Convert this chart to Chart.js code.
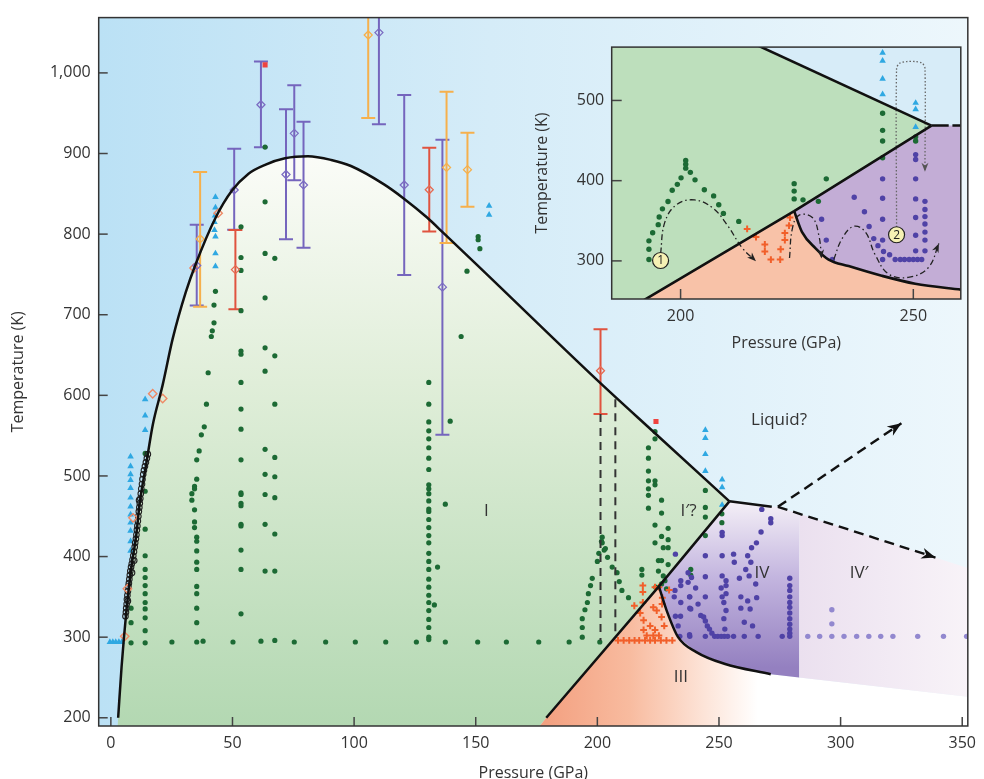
<!DOCTYPE html>
<html>
<head>
<meta charset="utf-8">
<script src="https://cdn.jsdelivr.net/npm/chart.js@4.4.1/dist/chart.umd.min.js"></script>
<style>
  html, body { margin: 0; padding: 0; background: #fff; }
  #wrap { position: relative; width: 984px; height: 779px; overflow: hidden; }
  #main { position: absolute; left: 0; top: 0; }
  #inset { position: absolute; left: 520px; top: 30px; }
</style>
</head>
<body>
<div id="wrap">
  <canvas id="main" width="984" height="779"></canvas>
  <canvas id="inset" width="450" height="330"></canvas>
</div>
<script>
// Phase boundaries, [P (GPa), T (K)]
const meltCurve = [[3.0,200],[4.4,263],[6.4,333],[8.4,386],[10.5,428],[11.8,465],[14.5,514],[17.2,563],[21.3,613],[25.4,670],[30.8,728],[34.9,763],[43,820],[49.8,854],[56.6,875],[63.4,886],[71.6,894],[81,896.5],[90.6,892],[98.7,884.5],[112.3,861.7],[120.5,844],[130,820.6],[136.8,801.2],[150.4,762.2],[200.6,617],[223.7,553],[254.3,468.5]];
const lineI = [[179,200],[225.3,363],[254.3,468.5]];
const curveIIIIV = [[225.3,363],[228.5,333],[233.2,300],[240.7,281.5],[252.2,267],[271.3,254]];
const lineIVLiquid = [[254.3,468.5],[271.7,461.7]];
const arrowUp = [[274.2,461.7],[325,565.4]];
const arrowDown = [[274.2,461.7],[339,398.8]];
const dashA = [[201.3,577],[201.3,296]];
const dashB = [[207.4,595],[207.4,299]];
const edgeIV = 283; // where IV turns into IV'

// Measurements
const greenDots = [[8.3,336],[8.3,318],[8.3,293],
  [14.1,528],[14.1,481],[14.1,434],[14.1,401],[14.1,384],[14.1,374],[14.1,364],[14.1,354],[14.1,343],[14.1,335],[14.1,324],[14.1,308],[14.1,293],
  [25.1,294],[37.9,295],[50.2,294],[61.7,295],[67.4,296],[75.4,294],[88.3,294],[100.5,294],[113,294],[125.6,294],[137.5,294],[150.8,294],[162.6,294],[175.9,294],[188.4,294],[201,294],
  [40,628],[39.3,589],[38.4,561],[37.2,551],[36.3,531],[35.3,520],[35.3,496],[34.4,487],[34.4,484],[33.3,478],[33.3,470],[34.4,458],[34.4,443],[34.4,436],[35.3,424],[35.3,419],[35.3,407],[35.3,393],[35.3,384],[35.3,363],[35.3,354],[35.3,336],[35.3,318],[35.3,294],
  [43,729],[42.4,712],[42.4,690],[41.7,680],[41.3,673],
  [53.5,809],[53.5,771],[53.5,755],[53.5,705],[53.5,655],[53.5,651],[53.5,616],[53.5,583],[53.5,558],[53.5,520],[53.5,479],[53.5,477],[53.5,466],[53.5,463],[53.5,440],[53.5,438],[53.5,408],[53.5,384],[53.5,329],
  [63.4,908],[63.4,840],[63.4,776],[63.4,721],[63.4,659],[63.4,630],[63.4,533],[63.4,502],[63.4,477],[63.4,440],[63.4,382],
  [67.4,770],[67.4,649],[67.4,589],[67.4,523],[67.4,499],[67.4,473],[67.4,428],[67.4,382],
  [130.7,616],[130.7,589],[130.7,567],[130.7,556],[130.7,546],[130.7,535],[130.7,522],[130.7,508],[130.7,489],[130.7,484],[130.7,478],[130.7,469],[130.7,459],[130.7,456],[130.7,446],[130.7,436],[130.7,426],[130.7,417],[130.7,404],[130.7,394],[130.7,384],[130.7,372],[130.7,362],[130.7,352],[130.7,343],[130.7,333],[130.7,322],[130.7,312],[130.7,300],[130.7,297],
  [134.3,387],[133,340],[137.5,465],[139.5,568],[144,673],[146.4,754],[151,797],[151,793],[151.7,782],
  [193.8,300],[193.8,312],[193.8,323],[194.9,334],[195.9,343],[196.3,354],[197.2,364],[197.9,373],[200,394],[200.6,404],[201.7,419],[202,424],[202,417],[202.8,408],[204.2,399],[206.1,387],[208.1,380],[209,369],[210.1,358],[212.8,349],[203.3,410],
  [223.7,555],[223.7,546],[221,535],[221,522],[221,506],[221,494],[223.7,494],[223.7,489],[221,484],[221,476],[226.4,470],[221,460],[226.4,454],[223.7,439],[229.1,435],[226.4,425],[229.1,421],[223.7,417],[227.1,411],[229.1,411],[225.1,395],[226.4,395],[229.1,390],[218.3,384],[218.3,377],[225.1,382],[227.1,376],[227.8,370],[226.4,366],[224,362],[228.4,360],[238.4,384],[238.4,377],
  [244.4,482],[244.4,461],[244.4,449],[244.4,426],[251.2,453],[251.2,442]];
const purpleDots = [[267.6,458.5],[271.3,447],[271.3,442],[267.3,430.5],[265.4,417],[263.4,411],[261.8,401],[256,403],[251.3,401],[244.4,401],[256.3,393],[263.1,393],[251.3,430],[251.3,426],[261,384],[262.4,376],[244.4,375],[251.3,376],[252.9,370],[258.4,373],[265.1,366],[237.3,380],[237.3,368],[234.3,370],[234.3,364],[240.4,361],[231.9,358],[250.9,361],[252.9,364],[231.6,350],[238,350],[244.4,350],[251.3,350],[252.9,354],[259,350],[261.8,345],[265.5,349],[234.3,343],[241.4,341],[238,336],[252,343],[252.9,333],[259,336],[262.8,335],[232.1,326],[234.2,326],[242.5,327],[243.7,325],[244.4,320],[245.2,314],[246.1,310],[247.1,305],[248.2,301],[249.5,301],[250.9,301],[252.2,301],[253.6,301],[252,323],[252.4,310],[260.4,318.5],[263.8,314],[233.9,301],[238,301],[244.4,301],[256,301],[260.4,301],[266.1,301],[276,301],[279.1,301],[279.1,373],[279.1,364],[279.1,358],[279.1,350],[279.1,343],[279.1,337],[279.1,330],[279.1,323],[279.1,316],[279.1,310],[279.1,305],[232.1,403],[233.2,314],[238.7,374],[237.9,350],[238.4,335],[237.9,303]];
const paleDots = [[286.5,301],[291.4,301],[296.4,301],[301.4,301],[306.6,301],[311.6,301],[316.5,301],[321.5,301],[331.7,301],[342.3,301],[351.8,301],[296.4,316.5],[296.4,334]];
const orangeCrosses = [[218.7,364],[218.7,356],[218.7,343],[215.2,339],[217.6,330],[219,321],[219,309],[220.3,302],[208.5,296],[210.8,296],[213.1,296],[215.3,296],[217.2,296],[219.6,296],[221.7,296],[223.7,296],[226.1,296],[228.4,296],[230.8,296],[221.7,314],[223.7,309],[223,302],[225.3,302],[226.4,325],[224.4,333],[226.6,341],[223,337],[226.7,349],[223.7,362],[225.3,362],[229.5,358.5],[227.5,314]];
const blueTriangles = [[8.1,524],[8.1,512],[8.1,502],[8.1,495],[8.1,485],[8.1,473],[8.1,462],[8.1,452],[8.1,442],[8.1,432],[8.1,419],[8.1,407],
  [14.1,595],[14.1,575],[14.1,557],[-0.4,294],[0.8,294],[2,294],[3.3,294],[4.5,294],
  [43,846],[43,833],[42.8,823],[42.6,815],[42.6,805],[43,797],[43,776],[43,760],[155.5,835],[155.5,824],
  [244.4,557],[244.4,547],[244.4,527],[244.4,506],[251.3,495.5],[251.3,486],[251.3,464]];
const blackCircles = [[6.0,326],[6.2,331],[6.3,336],[6.5,341],[6.6,347],[6.8,352],[7.0,345],[7.0,357],[7.2,363],[7.4,367],[7.6,372],[7.8,377],[8.0,382],[8.3,387],[8.7,380],[8.6,391],[8.9,396],[9.2,401],[9.6,395],[9.5,406],[9.8,412],[10.0,417],[10.3,422],[10.5,427],[10.7,433],[10.9,438],[11.1,444],[11.3,450],[11.5,456],[11.7,461],[11.6,470],[11.9,466],[12.1,472],[12.3,478],[12.5,484],[12.8,490],[13.0,496],[13.3,502],[13.6,507],[14.0,512],[14.4,517],[14.8,522],[15.2,527]];
const lowDiamonds = [[5.7,301],[6.8,360],[9.1,448],[17.2,602],[21.3,596],[34.2,758],[44.1,826]];
const redSquares = [[63.4,1010],[224.1,567.5]];
// error bars [P, low, centre, high]
const barsPurple = [[35.3,711.6,761,811.6],[50.7,805.4,854.8,906],[61.7,907.9,960.5,1014],[72,793.5,874,954.8],[75.4,866.7,925,984.8],[79.2,783,861,939.5],[110.2,936.3,1050,1090],[120.6,749.4,861,972.5],[136.3,551,734.2,917]];
const barsOrange = [[36.7,710,794,877],[105.8,944,1047,1090],[138,789,882.7,976.5],[146.6,834,880,925.6]];
const barsRed = [[51.2,706.7,756,805],[130.9,803.3,855,907],[201.3,577,630.5,682]];
const regionLabels = [['I',154.4,456],['I\u2032?',237.5,456],['IV',267.7,380],['IV\u2032',307.6,380],['III',234.3,250],['Liquid?',274.7,568.8]];

// Inset (zoom on 185-260 GPa)
const insetMelt = [[216.4,569],[253.9,468.7]];
const insetLineI = [[191.8,250],[224.4,362],[253.9,468.7]];
const insetIIIIV = [[224.4,362],[226.1,335.9],[229,315.7],[231.8,301.7],[236.1,293.6],[243.2,281.5],[250.4,271.5],[260.5,264]];
const insetFlat = [[253.9,468.7],[257.6,468.7]];
const insetFlatDash = [[258.4,468.7],[260.5,468.7]];
const insetGreen = [[193.2,301.7],[193.2,314.5],[193.2,325],[194,335],[195.2,345.2],[195.4,354.8],[196.1,364.9],[197.3,374],[198.2,388],[199.3,395.4],[200.1,403.5],[201.1,415.6],[201.1,420.4],[201.1,425.2],[202.1,410.4],[203.1,401],[205.1,388.6],[207.1,381],[208.2,370],[209.2,359.2],[212.5,349.2],[224.4,396.3],[224.4,387],[224.4,377.3],[226.3,376.1],[229.6,374.2],[231.3,402.3],[243.4,484],[243.4,462.7],[243.4,449.4],[243.4,428.5],[250.5,454.6],[250.5,449.4]];
const insetBlue = [[243.4,559.3],[243.4,549.3],[243.4,527],[243.4,507.7],[250.5,496.9],[250.5,488.9],[250.5,466.7]];
const insetPurple = [[250.5,432.5],[250.5,426.4],[250.5,402.3],[250.5,377.3],[250.5,354],[250.5,331.9],[250.5,312.5],[243.4,402.3],[243.4,378.1],[243.4,352],[243.4,325.9],[243.4,301.7],[252.5,374.2],[252.5,364],[252.5,355.2],[252.5,345.9],[252.5,335.9],[252.5,325.9],[252.5,312.5],[246.1,301.7],[247.2,301.7],[248.1,301.7],[249.1,301.7],[250,301.7],[250.9,301.7],[251.8,301.7],[241.5,327.8],[242.4,319],[243.6,311.7],[244.9,307.7],[237.3,379.3],[239.5,361.2],[240.5,342.8],[230.3,352],[231.3,325.9],[232.6,301.7]];
const insetOrange = [[214.3,339.9],[216.2,329.8],[218.1,320.5],[218.1,311.7],[219.4,301.7],[221.4,301.7],[221.5,314.5],[222.4,325.9],[222.4,334.7],[223.3,344],[223.5,354]];
const insetMarkers = [['1',195.7,300.5],['2',246.4,332.6]];
const path1 = [[195.7,309],[196.6,348],[199.1,370],[203,376],[206.9,366],[210.1,344],[213.3,315.7],[216.2,299.6]];
const path2 = [[223.4,303.6],[224,339.9],[225.4,356.8],[228.3,354],[229.7,331.9],[230.3,303]];
const path3 = [[232.9,301.7],[234.7,327.8],[237.2,343.1],[239.7,335.9],[241.8,307.7],[244.7,283.6],[248.9,279.5],[253.2,291.5],[255.5,321.7]];
const path4 = [[246.4,342],[246.4,540],[247.1,546.5],[248.6,548.5],[250.4,548.5],[251.9,546.5],[252.5,540],[252.5,411]];

Chart.defaults.font.family = "'Open Sans', 'DejaVu Sans', sans-serif";
Chart.defaults.color = '#333';

const xy = a => a.map(([x, y]) => ({x, y}));
const lineDs = (data, extra) => Object.assign({data: xy(data), showLine: true, borderColor: '#111', borderWidth: 2.5, pointRadius: 0, fill: false, clip: 0}, extra);
const dotDs = (data, extra) => Object.assign({data: xy(data), showLine: false, pointRadius: 2.6, borderWidth: 0}, extra);

function fillPoly(ctx, X, Y, pts, style) {
  ctx.beginPath();
  pts.forEach(([p, t], i) => i ? ctx.lineTo(X(p), Y(t)) : ctx.moveTo(X(p), Y(t)));
  ctx.closePath();
  ctx.fillStyle = style;
  ctx.fill();
}

function arrowHead(ctx, x0, y0, x1, y1, len, half) {
  const ang = Math.atan2(y1 - y0, x1 - x0);
  ctx.save();
  ctx.translate(x1, y1);
  ctx.rotate(ang);
  ctx.beginPath();
  ctx.moveTo(0, 0);
  ctx.lineTo(-len, -half);
  ctx.lineTo(-len * 0.7, 0);
  ctx.lineTo(-len, half);
  ctx.closePath();
  ctx.fill();
  ctx.restore();
}

function tickMarks(chart, len) {
  const {ctx, chartArea: a, scales: {x, y}} = chart;
  ctx.save();
  ctx.strokeStyle = '#444';
  ctx.lineWidth = 1.5;
  x.ticks.forEach(t => {
    const px = x.getPixelForValue(t.value);
    ctx.beginPath(); ctx.moveTo(px, a.bottom); ctx.lineTo(px, a.bottom - len); ctx.stroke();
  });
  y.ticks.forEach(t => {
    const py = y.getPixelForValue(t.value);
    ctx.beginPath(); ctx.moveTo(a.left, py); ctx.lineTo(a.left + len, py); ctx.stroke();
  });
  ctx.strokeStyle = '#333';
  ctx.strokeRect(a.left, a.top, a.width, a.height);
  ctx.restore();
}

// value on a straight boundary at pressure p
function tOnLine(seg, p) {
  const [[p0, t0], [p1, t1]] = seg;
  return t0 + (t1 - t0) * (p - p0) / (p1 - p0);
}

const mainBg = {
  id: 'mainBg',
  beforeDatasetsDraw(chart) {
    const {ctx, chartArea: a, scales: {x, y}} = chart;
    const X = v => x.getPixelForValue(v), Y = v => y.getPixelForValue(v);
    const pMax = x.max, tMin = y.min;
    ctx.save();
    ctx.beginPath(); ctx.rect(a.left, a.top, a.width, a.height); ctx.clip();

    let g = ctx.createLinearGradient(a.left, 0, a.right, 0);
    g.addColorStop(0, '#bbe1f5'); g.addColorStop(0.45, '#d5ecf8'); g.addColorStop(1, '#edf7fc');
    ctx.fillStyle = g; ctx.fillRect(a.left, a.top, a.width, a.height);

    // phase I
    const polyI = [[2.8, tMin], ...meltCurve, lineI[1], lineI[0], [176.3, tMin]];
    g = ctx.createLinearGradient(0, Y(900), 0, a.bottom);
    g.addColorStop(0, '#fbfcf8'); g.addColorStop(0.4, '#e0eed9'); g.addColorStop(1, '#b3d8b2');
    fillPoly(ctx, X, Y, polyI, g);

    // phase III and the white lower right
    const tEdgeLow = 250;
    const polyIII = [[176.3, tMin], lineI[0], ...curveIIIIV, [edgeIV, tEdgeLow], [pMax, 226], [pMax, tMin]];
    g = ctx.createLinearGradient(X(178), 0, X(266), 0);
    g.addColorStop(0, '#f3a080'); g.addColorStop(0.4, '#f8bb9f'); g.addColorStop(0.75, '#fde4d8'); g.addColorStop(1, '#ffffff');
    fillPoly(ctx, X, Y, polyIII, g);

    // phase IV
    const tEdgeTop = tOnLine(arrowDown, edgeIV);
    const polyIV = [...lineIVLiquid, arrowDown[0], [edgeIV, tEdgeTop], [edgeIV, tEdgeLow], ...curveIIIIV.slice().reverse()];
    g = ctx.createLinearGradient(0, Y(466), 0, Y(262));
    g.addColorStop(0, '#f3eef6'); g.addColorStop(0.45, '#c3b5df'); g.addColorStop(1, '#9480c0');
    fillPoly(ctx, X, Y, polyIV, g);

    // phase IV'
    const polyIVp = [[edgeIV, tEdgeTop], [pMax, tOnLine(arrowDown, pMax)], [pMax, 226], [edgeIV, tEdgeLow]];
    g = ctx.createLinearGradient(X(edgeIV), 0, X(pMax), 0);
    g.addColorStop(0, '#ebe0ef'); g.addColorStop(1, '#f8f3f8');
    fillPoly(ctx, X, Y, polyIVp, g);

    // error bars
    [[barsPurple, '#7565bd'], [barsOrange, '#f6b04c'], [barsRed, '#e0533f']].forEach(([bars, c]) => {
      ctx.strokeStyle = c; ctx.lineWidth = 2;
      bars.forEach(([p, lo, mid, hi]) => {
        const px = X(p), y0 = Y(lo), y1 = Y(hi);
        ctx.beginPath();
        ctx.moveTo(px, y0); ctx.lineTo(px, y1);
        ctx.moveTo(px - 7, y0); ctx.lineTo(px + 7, y0);
        ctx.moveTo(px - 7, y1); ctx.lineTo(px + 7, y1);
        ctx.stroke();
      });
    });
    ctx.restore();
  },
  afterDatasetsDraw(chart) {
    const {ctx, scales: {x, y}} = chart;
    const X = v => x.getPixelForValue(v), Y = v => y.getPixelForValue(v);
    ctx.save();
    ctx.fillStyle = '#111';
    [arrowUp, arrowDown].forEach(([[p0, t0], [p1, t1]]) => arrowHead(ctx, X(p0), Y(t0), X(p1), Y(t1), 14, 5.5));
    ctx.fillStyle = '#333';
    ctx.font = "17px 'Open Sans', sans-serif";
    ctx.textAlign = 'center'; ctx.textBaseline = 'middle';
    regionLabels.forEach(([s, p, t]) => ctx.fillText(s, X(p), Y(t)));
    ctx.restore();
    tickMarks(chart, 9);
  }
};

new Chart(document.getElementById('main'), {
  type: 'scatter',
  data: {
    datasets: [
      lineDs(meltCurve, {cubicInterpolationMode: 'monotone'}),
      lineDs(lineI),
      lineDs(curveIIIIV, {cubicInterpolationMode: 'monotone'}),
      lineDs(lineIVLiquid),
      lineDs(arrowUp, {borderDash: [10, 6], borderWidth: 2.4}),
      lineDs(arrowDown, {borderDash: [10, 6], borderWidth: 2.4}),
      lineDs(dashA, {borderDash: [8, 6], borderWidth: 2, borderColor: '#333'}),
      lineDs(dashB, {borderDash: [8, 6], borderWidth: 2, borderColor: '#333'}),
      dotDs(redSquares, {pointStyle: 'rect', pointRadius: 3.6, backgroundColor: '#ef4340'}),
      dotDs(barsPurple.map(b => [b[0], b[2]]), {pointStyle: 'rectRot', pointRadius: 4, backgroundColor: 'rgba(0,0,0,0)', borderColor: '#7b6cc2', borderWidth: 1.3}),
      dotDs(barsOrange.map(b => [b[0], b[2]]), {pointStyle: 'rectRot', pointRadius: 4, backgroundColor: 'rgba(0,0,0,0)', borderColor: '#f6b04c', borderWidth: 1.3}),
      dotDs(barsRed.map(b => [b[0], b[2]]), {pointStyle: 'rectRot', pointRadius: 4, backgroundColor: 'rgba(0,0,0,0)', borderColor: '#e66a52', borderWidth: 1.3}),
      dotDs(lowDiamonds, {pointStyle: 'rectRot', pointRadius: 4.2, backgroundColor: 'rgba(0,0,0,0)', borderColor: '#ee8a66', borderWidth: 1.4}),
      dotDs(blackCircles, {pointRadius: 2.8, backgroundColor: 'rgba(0,0,0,0)', borderColor: '#222', borderWidth: 1.1}),
      dotDs(orangeCrosses, {pointStyle: 'cross', pointRadius: 3.4, borderColor: '#f15f2a', borderWidth: 2}),
      dotDs(blueTriangles, {pointStyle: 'triangle', pointRadius: 3.8, backgroundColor: '#2fa8e2'}),
      dotDs(paleDots, {backgroundColor: '#9288cf', pointRadius: 2.7}),
      dotDs(purpleDots, {backgroundColor: '#4f42a6', pointRadius: 2.7}),
      dotDs(greenDots, {backgroundColor: '#1c6a34'})
    ]
  },
  options: {
    responsive: false, animation: false, devicePixelRatio: 1, events: [],
    layout: {padding: {top: 13.7, right: 8.3, left: 0, bottom: 0}},
    plugins: {legend: {display: false}, tooltip: {enabled: false}},
    scales: {
      x: {
        type: 'linear', min: -5, max: 352.3,
        afterFit: s => { s.height = 53; },
        grid: {display: false, drawTicks: false}, border: {display: false},
        ticks: {stepSize: 50, includeBounds: false, padding: 8, maxRotation: 0, font: {size: 16}, color: '#333'},
        title: {display: true, text: 'Pressure (GPa)', font: {size: 16}, color: '#333', padding: {top: 0, bottom: -3.6}}
      },
      y: {
        type: 'linear', min: 189.8, max: 1068.6,
        afterFit: s => { s.width = 98.7; },
        grid: {display: false, drawTicks: false}, border: {display: false},
        ticks: {stepSize: 100, includeBounds: false, padding: 8, font: {size: 16}, color: '#333', callback: v => v.toLocaleString('en-US')},
        title: {display: true, text: 'Temperature (K)', font: {size: 16}, color: '#333', padding: {top: 8.9, bottom: 0}}
      }
    }
  },
  plugins: [mainBg]
});

const insetBg = {
  id: 'insetBg',
  beforeDatasetsDraw(chart) {
    const {ctx, chartArea: a, scales: {x, y}} = chart;
    const X = v => x.getPixelForValue(v), Y = v => y.getPixelForValue(v);
    const pMin = x.min, pMax = x.max, tMin = y.min, tMax = y.max;
    ctx.save();
    ctx.beginPath(); ctx.rect(a.left, a.top, a.width, a.height); ctx.clip();
    ctx.fillStyle = '#d7ecf8'; ctx.fillRect(a.left, a.top, a.width, a.height);
    fillPoly(ctx, X, Y, [[pMin, tMin], [pMin, tMax + 5], ...insetMelt, insetLineI[1], insetLineI[0]], '#bddfbc');
    fillPoly(ctx, X, Y, [insetLineI[0], ...insetIIIIV, [pMax + 1, tMin - 5], [insetLineI[0][0], tMin - 5]], '#f8c2a8');
    fillPoly(ctx, X, Y, [insetLineI[1], insetLineI[2], [pMax + 1, insetFlat[0][1]], ...insetIIIIV.slice().reverse()], '#c3add6');
    ctx.restore();
  },
  afterDatasetsDraw(chart) {
    const {ctx, scales: {x, y}} = chart;
    const X = v => x.getPixelForValue(v), Y = v => y.getPixelForValue(v);
    ctx.save();
    ctx.fillStyle = '#222';
    [path1, path2, path3].forEach(p => {
      const [p0, t0] = p[p.length - 2], [p1, t1] = p[p.length - 1];
      arrowHead(ctx, X(p0), Y(t0), X(p1), Y(t1), 9, 3.5);
    });
    ctx.fillStyle = '#555';
    {
      const [p0, t0] = path4[path4.length - 2], [p1, t1] = path4[path4.length - 1];
      arrowHead(ctx, X(p0), Y(t0), X(p1), Y(t1), 9, 3.5);
    }
    ctx.fillStyle = '#222';
    ctx.font = "12px 'Open Sans', sans-serif";
    ctx.textAlign = 'center'; ctx.textBaseline = 'middle';
    insetMarkers.forEach(([s, p, t]) => ctx.fillText(s, X(p), Y(t) + 0.5));
    ctx.restore();
    tickMarks(chart, 10);
  }
};

new Chart(document.getElementById('inset'), {
  type: 'scatter',
  data: {
    datasets: [
      dotDs(insetMarkers.map(m => [m[1], m[2]]), {pointRadius: 8, backgroundColor: '#f6f1b4', borderColor: '#222', borderWidth: 1.2}),
      lineDs(insetMelt, {borderWidth: 2.6}),
      lineDs(insetLineI, {borderWidth: 2.6}),
      lineDs(insetIIIIV, {borderWidth: 2.6, cubicInterpolationMode: 'monotone'}),
      lineDs(insetFlat, {borderWidth: 2.6}),
      lineDs(insetFlatDash, {borderWidth: 2.6}),
      lineDs(path1, {borderWidth: 1.3, borderColor: '#222', borderDash: [6, 3, 1.5, 3], tension: 0.4}),
      lineDs(path2, {borderWidth: 1.3, borderColor: '#222', borderDash: [6, 3, 1.5, 3], tension: 0.4}),
      lineDs(path3, {borderWidth: 1.3, borderColor: '#222', borderDash: [6, 3, 1.5, 3], tension: 0.4}),
      lineDs(path4, {borderWidth: 1.3, borderColor: '#666', borderDash: [1.5, 2], tension: 0.3}),
      dotDs(insetOrange, {pointStyle: 'cross', pointRadius: 3.4, borderColor: '#f15f2a', borderWidth: 2}),
      dotDs(insetBlue, {pointStyle: 'triangle', pointRadius: 3.8, backgroundColor: '#2fa8e2'}),
      dotDs(insetPurple, {backgroundColor: '#4f42a6', pointRadius: 2.7}),
      dotDs(insetGreen, {backgroundColor: '#1c6a34', pointRadius: 2.7})
    ]
  },
  options: {
    responsive: false, animation: false, devicePixelRatio: 1, events: [],
    layout: {padding: {top: 9, right: 7.3, left: 0, bottom: 0}},
    plugins: {legend: {display: false}, tooltip: {enabled: false}},
    scales: {
      x: {
        type: 'linear', min: 185.2, max: 260.2,
        afterFit: s => { s.height = 61; },
        grid: {display: false, drawTicks: false}, border: {display: false},
        ticks: {stepSize: 50, includeBounds: false, padding: 8, maxRotation: 0, font: {size: 16}, color: '#333'},
        title: {display: true, text: 'Pressure (GPa)', font: {size: 16}, color: '#333', padding: {top: 0, bottom: 7.4}}
      },
      y: {
        type: 'linear', min: 252.5, max: 566.5,
        afterFit: s => { s.width = 91.7; },
        grid: {display: false, drawTicks: false}, border: {display: false},
        ticks: {stepSize: 100, includeBounds: false, padding: 7.5, font: {size: 16}, color: '#333'},
        title: {display: true, text: 'Temperature (K)', font: {size: 16}, color: '#333', padding: {top: 13.1, bottom: 0}}
      }
    }
  },
  plugins: [insetBg]
});
</script>
</body>
</html>
